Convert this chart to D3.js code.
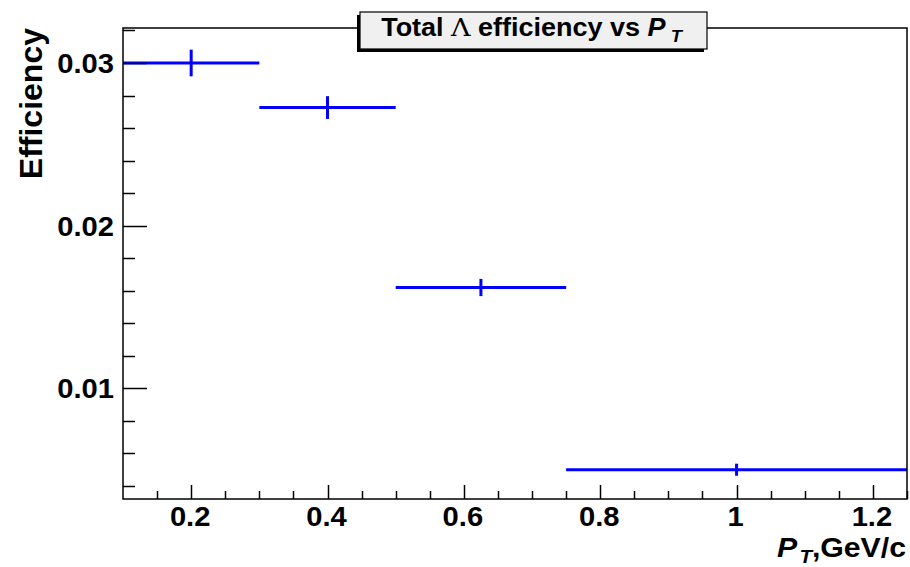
<!DOCTYPE html>
<html>
<head>
<meta charset="utf-8">
<script src="https://cdn.jsdelivr.net/npm/d3@7"></script>
<style>
  html, body { margin: 0; padding: 0; background: #fff; }
  svg { display: block; }
  text { font-family: "Liberation Sans", Arial, Helvetica, sans-serif; font-weight: bold; fill: #000; }
</style>
</head>
<body>
<svg id="chart" width="910" height="567"></svg>
<script>
// Lambda reconstruction efficiency per transverse-momentum bin
const binLow    = [0.10, 0.30, 0.50, 0.75];
const binHigh   = [0.30, 0.50, 0.75, 1.25];
const binCenter = [0.20, 0.40, 0.625, 1.00];
const efficiency = [0.0300, 0.02726, 0.0162, 0.0050];
const effError   = [0.00082, 0.00070, 0.00053, 0.00037];

const xTickValues = [0.2, 0.4, 0.6, 0.8, 1.0, 1.2];
const xTickLabels = ["0.2", "0.4", "0.6", "0.8", "1", "1.2"];
const yTickValues = [0.01, 0.02, 0.03];
const yTickLabels = ["0.01", "0.02", "0.03"];

const svg = d3.select("#chart");
const frame = { left: 123, right: 907, top: 28, bottom: 499 };
const stretch = 1.08; // horizontal glyph stretch of the labels

const x = d3.scaleLinear().domain([0.1, 1.25]).range([frame.left, frame.right]);
const y = d3.scaleLinear().domain([0.0032, 0.03215]).range([frame.bottom, frame.top]);

const points = binCenter.map((c, i) => ({
  c, lo: binLow[i], hi: binHigh[i], v: efficiency[i], e: effError[i]
}));

// Data: horizontal bin widths + vertical error bars
const g = svg.append("g");
g.selectAll("line.xerr").data(points).join("line")
  .attr("class", "xerr")
  .attr("x1", d => x(d.lo)).attr("x2", d => x(d.hi))
  .attr("y1", d => y(d.v)).attr("y2", d => y(d.v))
  .attr("stroke", "#0000ff").attr("stroke-width", 3);
g.selectAll("line.yerr").data(points).join("line")
  .attr("class", "yerr")
  .attr("x1", d => x(d.c)).attr("x2", d => x(d.c))
  .attr("y1", d => y(d.v - d.e)).attr("y2", d => y(d.v + d.e))
  .attr("stroke", "#0000ff").attr("stroke-width", 3);
g.selectAll("rect.mk").data(points).join("rect")
  .attr("class", "mk")
  .attr("x", d => x(d.c) - 0.5).attr("y", d => y(d.v) - 0.5)
  .attr("width", 1).attr("height", 1).attr("fill", "#000");

// Frame
svg.append("rect")
  .attr("x", frame.left).attr("y", frame.top)
  .attr("width", frame.right - frame.left).attr("height", frame.bottom - frame.top)
  .attr("fill", "none").attr("stroke", "#000").attr("stroke-width", 1.5);

// Y axis ticks (inside the frame)
const yMinor = d3.range(0.004, 0.0321, 0.002);
svg.append("g").selectAll("line").data(yMinor).join("line")
  .attr("x1", frame.left)
  .attr("x2", d => frame.left + (yTickValues.some(t => Math.abs(t - d) < 1e-9) ? 24 : 12))
  .attr("y1", d => Math.round(y(d)) + 0.5).attr("y2", d => Math.round(y(d)) + 0.5)
  .attr("stroke", "#000").attr("stroke-width", 1.5);

// X axis ticks (inside the frame)
const xMinor = d3.range(0.15, 1.251, 0.05);
svg.append("g").selectAll("line").data(xMinor).join("line")
  .attr("x1", d => Math.round(x(d)) + 0.5).attr("x2", d => Math.round(x(d)) + 0.5)
  .attr("y1", frame.bottom)
  .attr("y2", d => frame.bottom - (xTickValues.some(t => Math.abs(t - d) < 1e-9) ? 14 : 8))
  .attr("stroke", "#000").attr("stroke-width", 1.5);

function stretched(sel, px, py) {
  return sel.attr("transform", `translate(${px},${py}) scale(${stretch},1)`);
}

// Tick labels
svg.append("g").selectAll("text").data(yTickValues).join("text")
  .each(function (d, i) {
    stretched(d3.select(this), 114, y(d) + 10)
      .attr("text-anchor", "end").attr("font-size", 27).text(yTickLabels[i]);
  });
svg.append("g").selectAll("text").data(xTickValues).join("text")
  .each(function (d, i) {
    stretched(d3.select(this), x(d) - 1, 526)
      .attr("text-anchor", "middle").attr("font-size", 27).text(xTickLabels[i]);
  });

// Axis titles
const xt = stretched(svg.append("text"), 906, 557)
  .attr("text-anchor", "end").attr("font-size", 28);
xt.append("tspan").attr("font-style", "italic").text("P");
xt.append("tspan").attr("font-style", "italic").attr("font-size", 19).attr("dx", 2).attr("dy", 6).text("T");
xt.append("tspan").attr("dy", -6).text(",GeV/c");

svg.append("text")
  .attr("transform", "translate(42,28) rotate(-90)")
  .attr("text-anchor", "end").attr("font-size", 32).text("Efficiency");

// Title box with shadow
const box = { x0: 360, y0: 12, x1: 707, y1: 49 };
svg.append("rect")
  .attr("x", box.x0 - 3).attr("y", box.y0 + 3)
  .attr("width", box.x1 - box.x0).attr("height", box.y1 - box.y0)
  .attr("fill", "#000");
svg.append("rect")
  .attr("x", box.x0).attr("y", box.y0)
  .attr("width", box.x1 - box.x0).attr("height", box.y1 - box.y0)
  .attr("fill", "#f0f0f0").attr("stroke", "#000").attr("stroke-width", 1.2);

const tt = stretched(svg.append("text"), (box.x0 + box.x1) / 2 - 2, 36)
  .attr("text-anchor", "middle").attr("font-size", 25);
tt.append("tspan").text("Total  ");
tt.append("tspan").attr("font-weight", "normal").attr("font-family", "DejaVu Serif, serif").text("Λ");
tt.append("tspan").text(" efficiency vs  ");
tt.append("tspan").attr("font-style", "italic").text("P");
tt.append("tspan").attr("font-style", "italic").attr("font-size", 17).attr("dy", 6).text(" T");
</script>
</body>
</html>
